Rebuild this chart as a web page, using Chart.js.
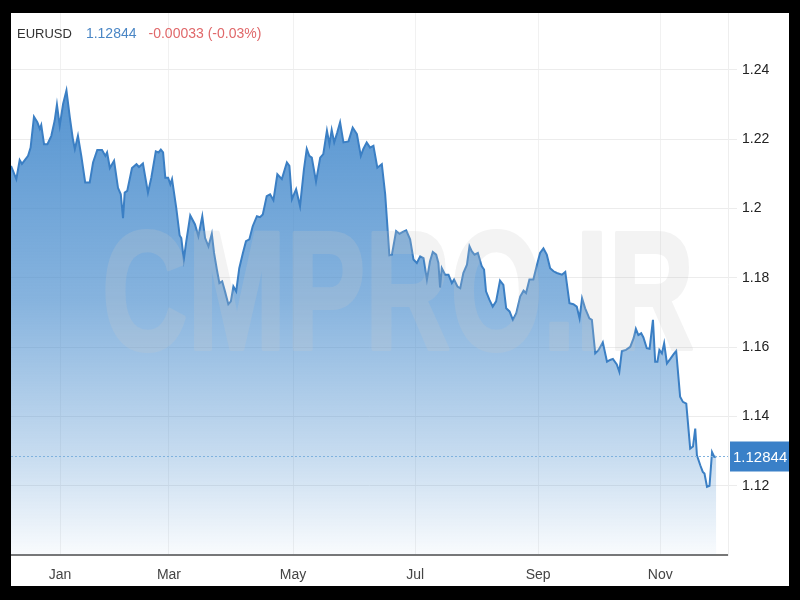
<!DOCTYPE html>
<html>
<head>
<meta charset="utf-8">
<script src="https://cdn.jsdelivr.net/npm/chart.js@4.4.1/dist/chart.umd.min.js"></script>
<style>
  html, body { margin: 0; padding: 0; background: #000; }
  #frame { position: absolute; left: 11px; top: 13px; width: 778px; height: 573px; background: #fff; overflow: hidden; }
  #chart { position: absolute; left: 0; top: 0; }
  #head { position: absolute; left: 6px; top: 12px; font-family: Arial, "Liberation Sans", sans-serif; white-space: nowrap; line-height: 16px; }
  #head .sym { font-size: 13px; color: #333; }
  #head .last { font-size: 14px; color: #4a86c5; margin-left: 14px; }
  #head .chg { font-size: 14px; color: #e0686a; margin-left: 12px; }
</style>
</head>
<body>
<div id="frame">
  <canvas id="chart" width="778" height="573"></canvas>
  <div id="head"><span class="sym">EURUSD</span><span class="last" id="lastTxt"></span><span class="chg" id="chgTxt"></span></div>
</div>
<script>
// trading sessions since start of window, and EURUSD close
const sessions = [0,1.9,3.1,3.9,6.1,7.0,8.2,9.4,10.3,10.8,
  11.8,13.0,14.4,15.6,16.4,17.4,18.6,19.8,21.0,22.1,
  22.8,23.9,25.1,26.5,28.1,29.3,30.8,32.5,33.7,34.3,
  35.3,36.8,38.2,39.2,40.0,40.6,41.5,43.2,44.8,45.7,
  47.1,48.9,50.1,51.7,52.7,53.5,54.3,55.1,56.1,56.9,
  57.5,59.0,60.2,60.8,61.7,62.6,64.0,65.7,66.9,68.3,
  69.3,70.5,71.7,72.5,73.5,74.4,75.4,76.4,77.6,78.5,
  79.4,80.4,81.5,82.8,83.9,85.1,86.3,87.8,88.9,89.9,
  91.3,92.5,93.7,95.1,96.7,98.5,99.4,100.3,101.8,103.2,
  104.6,105.6,106.5,107.4,108.9,110.4,111.5,112.8,113.7,114.5,
  115.4,116.5,117.5,118.7,120.5,122.0,123.5,124.9,125.8,127.0,
  128.2,129.4,130.8,132.4,133.6,135.1,136.0,137.5,138.7,139.9,
  141.1,142.5,143.7,144.9,146.1,147.3,148.5,149.6,150.6,151.8,
  152.6,153.2,153.8,155.0,156.2,157.4,158.2,159.4,160.4,161.5,
  162.8,163.7,164.5,165.5,166.7,168.1,168.9,169.6,170.8,172.0,
  173.2,174.6,175.8,176.8,178.0,179.2,180.4,181.8,183.0,183.9,
  185.1,186.5,187.8,188.9,190.1,191.3,192.5,193.7,194.9,196.7,
  197.9,199.4,200.8,202.0,203.0,203.9,205.0,206.5,207.4,208.6,
  209.8,211.3,212.8,213.9,214.9,216.3,217.2,218.1,219.6,221.1,
  222.3,223.1,224.0,225.0,225.8,227.0,228.0,229.2,230.0,230.8,
  231.5,232.4,233.2,234.2,235.4,236.8,237.5,238.9,239.9,241.1,
  242.5,243.5,244.3,244.9,246.1,247.0,247.6,248.5,249.4,250.3,
  251.1,251.8];
const rates = [1.2123,1.2085,1.2140,1.2129,1.2152,1.2176,1.2265,1.2249,1.2230,1.2241,
  1.2186,1.2186,1.2210,1.2254,1.2300,1.2239,1.2302,1.2341,1.2263,1.2200,
  1.2172,1.2210,1.2152,1.2075,1.2075,1.2133,1.2169,1.2169,1.2152,1.2162,
  1.2117,1.2138,1.2060,1.2041,1.1972,1.2046,1.2051,1.2117,1.2128,1.2120,
  1.2130,1.2046,1.2089,1.2165,1.2162,1.2170,1.2162,1.2089,1.2089,1.2070,
  1.2085,1.2002,1.1923,1.1915,1.1853,1.1906,1.1980,1.1954,1.1920,1.1978,
  1.1915,1.1891,1.1927,1.1872,1.1824,1.1785,1.1790,1.1761,1.1724,1.1732,
  1.1775,1.1761,1.1828,1.1872,1.1906,1.1911,1.1949,1.1978,1.1975,1.1983,
  1.2036,1.2041,1.2024,1.2099,1.2085,1.2133,1.2123,1.2027,1.2056,1.2007,
  1.2114,1.2172,1.2152,1.2147,1.2078,1.2147,1.2157,1.2225,1.2186,1.2227,
  1.2191,1.2220,1.2249,1.2191,1.2194,1.2234,1.2215,1.2152,1.2172,1.2191,
  1.2176,1.2181,1.2118,1.2128,1.2041,1.1865,1.1867,1.1935,1.1927,1.1933,
  1.1937,1.1911,1.1853,1.1843,1.1862,1.1857,1.1795,1.1848,1.1875,1.1867,
  1.1843,1.1772,1.1828,1.1809,1.1809,1.1785,1.1795,1.1775,1.1770,1.1814,
  1.1838,1.1891,1.1877,1.1867,1.1872,1.1833,1.1824,1.1761,1.1737,1.1717,
  1.1732,1.1792,1.1780,1.1712,1.1703,1.1679,1.1698,1.1746,1.1763,1.1756,
  1.1795,1.1795,1.1838,1.1872,1.1885,1.1867,1.1828,1.1819,1.1814,1.1809,
  1.1817,1.1727,1.1724,1.1717,1.1683,1.1741,1.1712,1.1683,1.1679,1.1582,
  1.1592,1.1614,1.1558,1.1563,1.1566,1.1550,1.1529,1.1589,1.1592,1.1601,
  1.1626,1.1653,1.1635,1.1640,1.1628,1.1597,1.1595,1.1679,1.1558,1.1558,
  1.1592,1.1582,1.1611,1.1553,1.1566,1.1582,1.1589,1.1457,1.1442,1.1437,
  1.1307,1.1313,1.1365,1.1288,1.1259,1.1240,1.1235,1.1197,1.1200,1.1297,
  1.1283,1.1284];

const monthTicks = [17.5, 56.4, 100.7, 144.3, 188.2, 231.8];
const monthLabels = ['Jan', 'Mar', 'May', 'Jul', 'Sep', 'Nov'];
const priceTicks = [1.12, 1.14, 1.16, 1.18, 1.20, 1.22, 1.24];

const lastPrice = 1.12844;
const change = '-0.00033 (-0.03%)';

document.getElementById('lastTxt').textContent = lastPrice.toFixed(5);
document.getElementById('chgTxt').textContent = change;

Chart.defaults.font.family = 'Arial, "Liberation Sans", sans-serif';

// big translucent site mark across the plot
const watermark = {
  id: 'watermark',
  afterDatasetsDraw(chart) {
    const txt = 'CMPRO.IR';
    const off = document.createElement('canvas');
    off.width = chart.width; off.height = chart.height;
    const o = off.getContext('2d');
    o.font = 'bold 168px Arial, "Liberation Sans", sans-serif';
    const w = o.measureText(txt).width;
    o.translate(91, 336);
    o.scale(592 / w, 1);
    o.fillStyle = o.strokeStyle = 'rgb(200,200,200)';
    o.lineWidth = 4;
    o.lineJoin = 'round';
    o.fillText(txt, 0, 0);
    o.strokeText(txt, 0, 0);
    const ctx = chart.ctx;
    ctx.save();
    ctx.globalAlpha = 0.22;
    ctx.drawImage(off, 0, 0);
    ctx.restore();
  }
};

const lastLine = {
  id: 'lastLine',
  afterDraw(chart) {
    const ctx = chart.ctx, area = chart.chartArea;
    const y = Math.round(chart.scales.y.getPixelForValue(lastPrice)) + 0.5;
    ctx.save();
    ctx.strokeStyle = '#80b2de';
    ctx.lineWidth = 1;
    ctx.setLineDash([2, 2]);
    ctx.beginPath();
    ctx.moveTo(area.left, y);
    ctx.lineTo(area.right, y);
    ctx.stroke();
    ctx.setLineDash([]);
    ctx.fillStyle = '#3a80c8';
    ctx.fillRect(area.right + 2, y - 15, chart.width - area.right - 2, 30);
    ctx.fillStyle = '#fff';
    ctx.font = '15px Arial, "Liberation Sans", sans-serif';
    ctx.textBaseline = 'middle';
    ctx.fillText(lastPrice.toFixed(5), area.right + 5, y + 1);
    ctx.restore();
  }
};

const ctx = document.getElementById('chart').getContext('2d');
const grad = ctx.createLinearGradient(0, 0, 0, 542);
grad.addColorStop(0, 'rgba(72,140,205,0.97)');
grad.addColorStop(0.16, 'rgba(72,140,205,0.91)');
grad.addColorStop(0.53, 'rgba(72,140,205,0.66)');
grad.addColorStop(0.82, 'rgba(72,140,205,0.30)');
grad.addColorStop(1, 'rgba(72,140,205,0.03)');

new Chart(ctx, {
  type: 'line',
  data: {
    datasets: [{
      data: sessions.map((s, i) => ({ x: s, y: rates[i] })),
      borderColor: '#3b7fc4',
      borderWidth: 2,
      backgroundColor: grad,
      fill: 'start',
      pointRadius: 0,
      tension: 0
    }]
  },
  options: {
    responsive: false,
    animation: false,
    layout: { padding: 0 },
    plugins: { legend: { display: false }, tooltip: { enabled: false } },
    scales: {
      x: {
        type: 'linear',
        min: 0,
        max: 256,
        afterBuildTicks: s => { s.ticks = monthTicks.map(v => ({ value: v })); },
        afterFit: s => { s.height = 31; s.paddingLeft = 0; s.paddingRight = 0; },
        ticks: {
          color: '#444',
          font: { size: 14 },
          padding: 12,
          maxRotation: 0,
          autoSkip: false,
          callback: v => monthLabels[monthTicks.indexOf(v)]
        },
        grid: { color: '#f1f1f1', drawTicks: false },
        border: { display: true, color: '#777', width: 2 }
      },
      y: {
        position: 'right',
        min: 1.10,
        max: 1.25645,
        afterBuildTicks: s => { s.ticks = priceTicks.map(v => ({ value: v })); },
        afterFit: s => { s.width = 61; s.paddingTop = 0; s.paddingBottom = 0; },
        ticks: {
          color: '#222',
          font: { size: 14 },
          padding: 5,
          autoSkip: false,
          callback: v => String(parseFloat(v.toFixed(2)))
        },
        grid: { color: '#ececec', tickLength: 9 },
        border: { display: true, color: '#eeeeee', width: 1 }
      }
    }
  },
  plugins: [watermark, lastLine]
});
</script>
</body>
</html>
